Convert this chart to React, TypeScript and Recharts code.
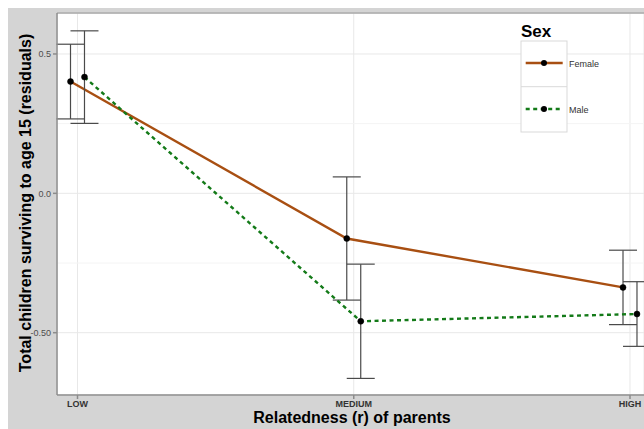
import React from 'react';
import {
  ComposedChart,
  Line,
  XAxis,
  YAxis,
  CartesianGrid,
  ErrorBar,
  ReferenceLine,
  Label,
} from 'recharts';

const categories = ['LOW', 'MEDIUM', 'HIGH'];
const femaleMean = [0.401, -0.162, -0.3375];
const femaleErr = [0.134, 0.221, 0.1335];
const maleMean = [0.417, -0.459, -0.433];
const maleErr = [0.166, 0.205, 0.116];
const yTicks = [-0.5, 0, 0.5];
const yTickLabels = ['-0.50', '0.0', '0.5'];
const minorY = [-0.25, 0.25];
const seriesNames = ['Female', 'Male'];

const FEMALE_COLOR = '#a84f12';
const MALE_COLOR = '#137a18';
const DODGE = 0.0253;
const FONT = '"Liberation Sans", Arial, sans-serif';

const femaleData = categories.map((c, i) => ({
  x: i + 1 - DODGE,
  cat: c,
  y: femaleMean[i],
  err: femaleErr[i],
}));
const maleData = categories.map((c, i) => ({
  x: i + 1 + DODGE,
  cat: c,
  y: maleMean[i],
  err: maleErr[i],
}));

const W = 636;
const H = 421;

const LegendBox = () => (
  <svg
    width={W}
    height={140}
    style={{ position: 'absolute', left: 0, top: 0, display: 'block', pointerEvents: 'none' }}
  >
    <text x={513} y={29} fontFamily={FONT} fontWeight="bold" fontSize={17} fill="#000">
      Sex
    </text>
    <rect x={513} y={33} width={46} height={91} fill="#fff" stroke="#d9d9d9" strokeWidth={1} />
    <line x1={513} y1={78.7} x2={559} y2={78.7} stroke="#d9d9d9" strokeWidth={1} />
    <line x1={517.7} y1={55} x2={554.7} y2={55} stroke={FEMALE_COLOR} strokeWidth={2.4} />
    <circle cx={536} cy={55} r={3} fill="#000" />
    <line x1={517.7} y1={101} x2={554.7} y2={101} stroke={MALE_COLOR} strokeWidth={2.4} strokeDasharray="4 3.5" />
    <circle cx={536} cy={101} r={3} fill="#000" />
    <text x={561} y={58.5} fontFamily={FONT} fontSize={9} fill="#333">
      {seriesNames[0]}
    </text>
    <text x={561} y={104.5} fontFamily={FONT} fontSize={9} fill="#333">
      {seriesNames[1]}
    </text>
  </svg>
);

export default function App() {
  return (
    <div style={{ width: W, height: H, background: '#d4d4d4', position: 'relative' }}>
      <style>{'body{margin:8px 0 0 8px;overflow:hidden;}'}</style>
      <ComposedChart
        width={W}
        height={H}
        margin={{ top: 5, right: 0, left: 9, bottom: 4 }}
      >
        <CartesianGrid stroke="#e8e8e8" strokeWidth={1} fill="#ffffff" />
        {minorY.map((v) => (
          <ReferenceLine key={v} y={v} stroke="#f4f4f4" strokeWidth={1} />
        ))}
        <ReferenceLine y={0.647} stroke="#a8a8a8" strokeWidth={1.5} />
        <XAxis
          type="number"
          dataKey="x"
          domain={[0.9258, 3.0507]}
          allowDataOverflow
          ticks={[1, 2, 3]}
          tickFormatter={(v: number) => categories[Math.round(v) - 1]}
          height={30}
          tickSize={4}
          tickMargin={2}
          stroke="#8c8c8c"
          strokeWidth={1.5}
          tick={{ fontSize: 9, fontFamily: FONT, fill: '#333', fontWeight: 'bold' }}
        >
          <Label
            content={() => (
              <text
                x={344}
                y={415}
                textAnchor="middle"
                fontFamily={FONT}
                fontWeight="bold"
                fontSize={16}
                fill="#000"
              >
                Relatedness (r) of parents
              </text>
            )}
          />
        </XAxis>
        <YAxis
          type="number"
          domain={[-0.7235, 0.647]}
          allowDataOverflow
          ticks={yTicks}
          tickFormatter={(v: number) => yTickLabels[yTicks.indexOf(v)]}
          width={40}
          tickSize={4}
          tickMargin={2}
          stroke="#8c8c8c"
          strokeWidth={1.5}
          tick={{ fontSize: 9, fontFamily: FONT, fill: '#4d4d4d' }}
        >
          <Label
            content={() => (
              <text
                x={17}
                y={195}
                transform="rotate(-90 17 195)"
                textAnchor="middle"
                dominantBaseline="central"
                fontFamily={FONT}
                fontWeight="bold"
                fontSize={16}
                fill="#000"
              >
                Total children surviving to age 15 (residuals)
              </text>
            )}
          />
        </YAxis>
        <Line
          data={femaleData}
          dataKey="y"
          name={seriesNames[0]}
          stroke={FEMALE_COLOR}
          strokeWidth={2.4}
          dot={{ r: 3, fill: '#000', stroke: '#000', strokeWidth: 0.5 }}
          isAnimationActive={false}
        >
          <ErrorBar dataKey="err" direction="y" width={14} stroke="#4a4a4a" strokeWidth={1.2} />
        </Line>
        <Line
          data={maleData}
          dataKey="y"
          name={seriesNames[1]}
          stroke={MALE_COLOR}
          strokeWidth={2.4}
          strokeDasharray="4 3.5"
          dot={{ r: 3, fill: '#000', stroke: '#000', strokeWidth: 0.5, strokeDasharray: '' }}
          isAnimationActive={false}
        >
          <ErrorBar dataKey="err" direction="y" width={14} stroke="#4a4a4a" strokeWidth={1.2} />
        </Line>
      </ComposedChart>
      <LegendBox />
    </div>
  );
}
